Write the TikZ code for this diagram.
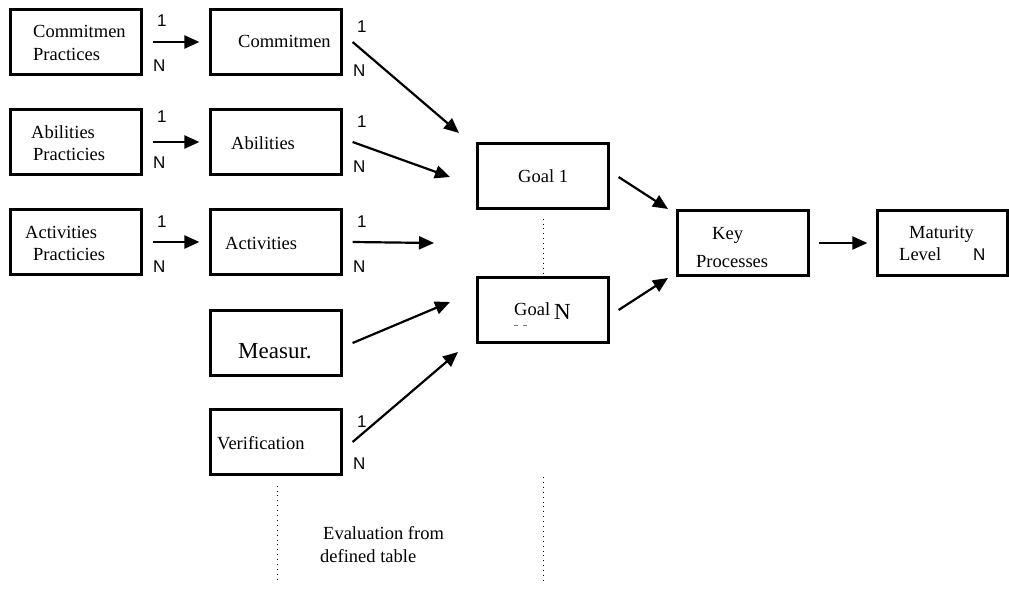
\documentclass[tikz,border=0pt]{standalone}
\usepackage{fontspec}
\setmainfont{Liberation Serif}
\newfontfamily\sanslbl{Liberation Sans}
\usetikzlibrary{arrows.meta}
\begin{document}
\begin{tikzpicture}[x=1pt,y=-1pt,
  box/.style={draw,line width=2.2pt,minimum width=131pt,minimum height=65pt,inner sep=0pt},
  txt/.style={anchor=base west,inner sep=0pt,font=\fontsize{18.5}{22}\selectfont},
  num/.style={anchor=base west,inner sep=0pt,font=\sanslbl\fontsize{17}{20}\selectfont},
  arr/.style={line width=2.2pt,-{Triangle[length=15pt,width=13pt]}},
  dotline/.style={line width=0.9pt,dash pattern=on 0.9pt off 4pt}]
\useasboundingbox (0,0) rectangle (1009,589);

% boxes
\node[box] (cp)  at (76,42)  {};
\node[box] (cm)  at (276,42) {};
\node[box] (ap)  at (76,142) {};
\node[box] (ab)  at (276,142) {};
\node[box] (acp) at (76,242) {};
\node[box] (ac)  at (276,242) {};
\node[box] (me)  at (276,343) {};
\node[box] (ve)  at (276,442) {};
\node[box] (g1)  at (543,176) {};
\node[box] (gn)  at (543,310) {};
\node[box] (kp)  at (743,243) {};
\node[box,minimum width=130pt] (ml) at (942.5,243) {};

% box texts
\node[txt] (cpa) at (33,37) {Commitmen};
\node[txt] (cpb) at (33,60) {Practices};
\node[txt] (cmt) at (238,47) {Commitmen};
\node[txt] (apa) at (31,138) {Abilities};
\node[txt] (apb) at (33,160) {Practicies};
\node[txt] (abt) at (231,149) {Abilities};
\node[txt] (aca) at (25,238) {Activities};
\node[txt] (acb) at (33,260) {Practicies};
\node[txt] (act) at (225,249) {Activities};
\node[txt,font=\fontsize{23}{26}\selectfont] (met) at (238,358) {Measur.};
\node[txt] (vet) at (217,449) {Verification};
\node[txt] (g1t) at (518,182) {Goal 1};
\node[txt] (gnt) at (514,315) {Goal};
\node[txt,font=\fontsize{23}{26}\selectfont] (gnn) at (554,319) {N};
\node[txt] (kpa) at (712,239) {Key};
\node[txt] (kpb) at (696,267) {Processes};
\node[txt] (mla) at (909,238) {Maturity};
\node[txt] (mlb) at (899,260) {Level};
\node[num] (mln) at (973,260) {N};
\draw[gray,line width=0.7pt] (514,325) -- (518,325) (523,325) -- (527,325);

% cardinality labels
\node[num] (o1) at (157,27)  {1};
\node[num] (n1) at (153,71)  {N};
\node[num] (o2) at (357,32)  {1};
\node[num] (n2) at (353,76)  {N};
\node[num] (o3) at (157,122) {1};
\node[num] (n3) at (153,168) {N};
\node[num] (o4) at (357,127) {1};
\node[num] (n4) at (353,172) {N};
\node[num] (o5) at (157,227) {1};
\node[num] (n5) at (153,272) {N};
\node[num] (o6) at (357,227) {1};
\node[num] (n6) at (353,272) {N};
\node[num] (o7) at (357,427) {1};
\node[num] (n7) at (353,469) {N};

% free arrow ends
\coordinate (e1) at (459,133);
\coordinate (e2) at (450,177);
\coordinate (e3) at (434,243);
\coordinate (e4) at (450,302);
\coordinate (e5) at (458,352);
\coordinate (e6) at (668,209);
\coordinate (e7) at (668,278);

% arrows
\draw[arr,shorten <=10pt,shorten >=10pt] (cp) -- (cm);
\draw[arr,shorten <=10pt,shorten >=10pt] (ap) -- (ab);
\draw[arr,shorten <=10pt,shorten >=10pt] (acp) -- (ac);
\draw[arr] ([xshift=10pt]cm.east) -- (e1);
\draw[arr] ([xshift=10pt]ab.east) -- (e2);
\draw[arr] ([xshift=10pt]ac.east) -- (e3);
\draw[arr] ([xshift=10pt]me.east) -- (e4);
\draw[arr] ([xshift=10pt]ve.east) -- (e5);
\draw[arr] ([xshift=9pt,yshift=-1pt]g1.east) -- (e6);
\draw[arr] ([xshift=9pt]gn.east) -- (e7);
\draw[arr,shorten <=9pt,shorten >=9pt] (kp) -- (ml);

% dotted guides
\draw[dotline] ([yshift=-9pt]g1.south) -- ([yshift=2pt]gn.north);
\coordinate (d1) at (277,583);
\coordinate (d2) at (543,477);
\coordinate (d3) at (543,583);
\draw[dotline] ([xshift=1pt,yshift=-10pt]ve.south) -- (d1);
\draw[dotline] (d2) -- (d3);

\node[txt] (eva) at (323,539) {Evaluation from};
\node[txt] (evb) at (320,562) {defined table};
\end{tikzpicture}
\end{document}
